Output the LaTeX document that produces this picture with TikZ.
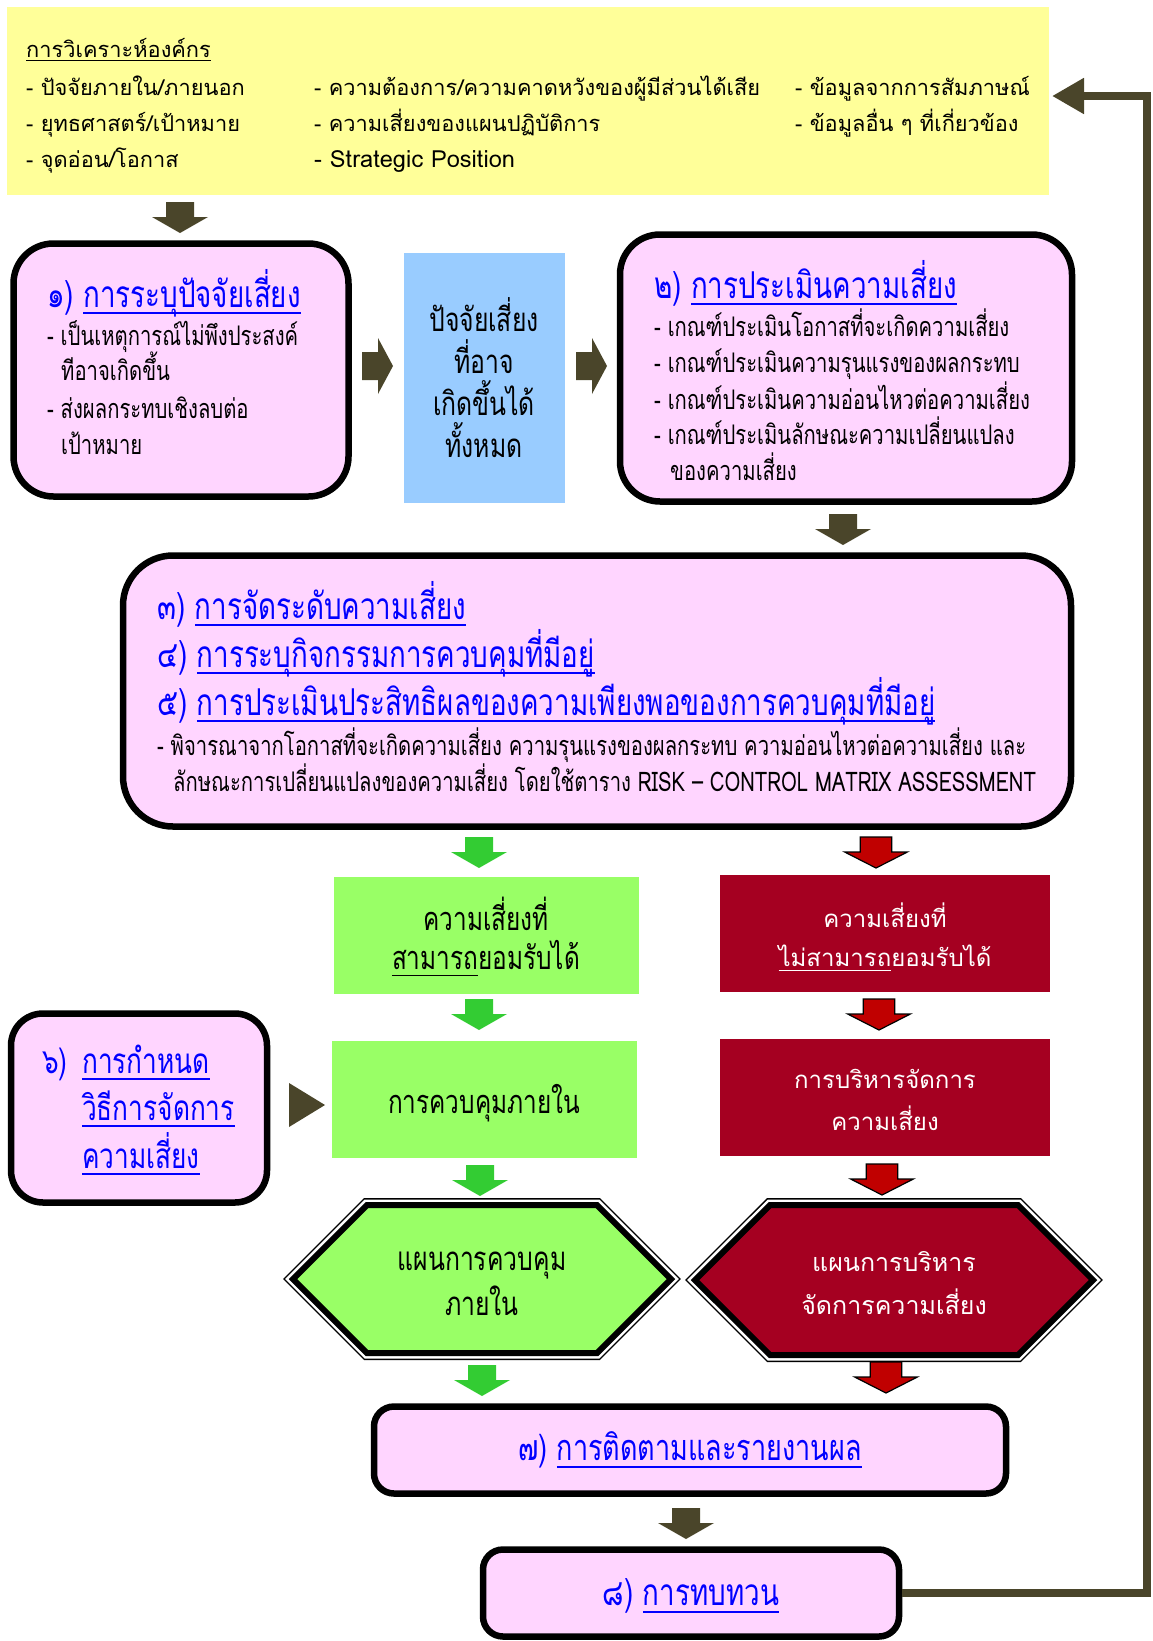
\documentclass[tikz,border=0pt]{standalone}
\usepackage{fontspec}
\setmainfont{Loma}[Script=Thai]
\newfontfamily\condfont{Loma}[Script=Thai,FakeStretch=0.75]
\usetikzlibrary{shapes.symbols,arrows.meta}
\definecolor{yelbg}{RGB}{255,255,153}
\definecolor{pinkbg}{RGB}{255,213,255}
\definecolor{bluebg}{RGB}{153,204,255}
\definecolor{grnbg}{RGB}{153,255,102}
\definecolor{grnarr}{RGB}{51,204,51}
\definecolor{redbg}{RGB}{165,0,33}
\definecolor{redarr}{RGB}{192,0,0}
\definecolor{arrdark}{RGB}{74,69,42}
\definecolor{linkblue}{RGB}{0,0,255}
% underline at a fixed depth, Thai vowels below may cross it
\newcommand{\ulth}[1]{\leavevmode\setbox0=\hbox{#1}\rlap{\rule[-0.2em]{\wd0}{0.06em}}\box0}
\newcommand{\stepno}[2]{{\color{linkblue}#1 \ulth{#2}}}
\tikzset{
  pics/dnarr/.style={code={\path[#1] (-14,0) -- (14,0) -- (14,15) -- (28,15) -- (0,31) -- (-28,15) -- (-14,15) -- cycle;}},
  pics/rtarr/.style={code={\path[#1] (0,-14) -- (16,-14) -- (16,-28) -- (31,0) -- (16,28) -- (16,14) -- (0,14) -- cycle;}},
}
\begin{document}
\begin{tikzpicture}[x=1pt,y=-1pt,
  every node/.style={inner sep=0pt},
  hdr/.style={anchor=west, text height=18pt, text depth=2pt, font=\fontsize{21.8}{26}\selectfont},
  ttl/.style={anchor=west, text height=28pt, text depth=4pt, font=\condfont\fontsize{37}{40}\selectfont},
  itm/.style={anchor=west, text height=24pt, text depth=4pt, font=\condfont\fontsize{27}{30}\selectfont},
  stepbox/.style={draw=black, line width=6.5pt, fill=pinkbg, rounded corners=#1},
  plainbox/.style={minimum width=305, minimum height=117},
  boxtext/.style={align=center, font=\condfont\fontsize{32.5}{39}\selectfont},
  redtext/.style={align=center, text=white, font=\fontsize{24}{#1}\selectfont},
  hexbox/.style={signal, signal to=west and east, signal pointer angle=90, draw=black, line width=6pt,
    preaction={draw=black, line width=14pt}, preaction={draw=white, line width=11pt}}]
\useasboundingbox (0,0) rectangle (1152,1641);

% analysis of the organisation
\node[fill=yelbg, minimum width=1042, minimum height=188] (yel) at (528,101) {};
\node[hdr] (yt) at (26,49) {\ulth{การวิเคราะห์องค์กร}};
\node[hdr] (y1) at (26,87) {- ปัจจัยภายใน/ภายนอก};
\node[hdr] (y2) at (26,123) {- ยุทธศาสตร์/เป้าหมาย};
\node[hdr] (y3) at (26,159) {- จุดอ่อน/โอกาส};
\node[hdr] (y4) at (314,87) {- ความต้องการ/ความคาดหวังของผู้มีส่วนได้เสีย};
\node[hdr] (y5) at (314,123) {- ความเสี่ยงของแผนปฏิบัติการ};
\node[hdr, font=\fontsize{23.6}{26}\selectfont] (y6) at (314,159) {- Strategic Position};
\node[hdr] (y7) at (795,87) {- ข้อมูลจากการสัมภาษณ์};
\node[hdr] (y8) at (795,123) {- ข้อมูลอื่น ๆ ที่เกี่ยวข้อง};
\pic at (180,202) {dnarr={fill=arrdark}};

% step 1
\node[stepbox=40pt, minimum width=335, minimum height=253] (b1) at (181,370) {};
\node[ttl] (b1t) at (47,295) {\stepno{๑)}{การระบุปัจจัยเสี่ยง}};
\node[itm] at (47,335) {- เป็นเหตุการณ์ไม่พึงประสงค์};
\node[itm] at (61,370) {ทีอาจเกิดขึ้น};
\node[itm] at (47,408) {- ส่งผลกระทบเชิงลบต่อ};
\node[itm] at (61,444) {เป้าหมาย};
\pic at (362,366) {rtarr={fill=arrdark}};

% all risk factors
\node[fill=bluebg, minimum width=161, minimum height=250, align=center,
  font=\condfont\fontsize{33}{42}\selectfont] (risk) at (484,378)
  {ปัจจัยเสี่ยง\\ที่อาจ\\เกิดขึ้นได้\\ทั้งหมด};
\pic at (576,366) {rtarr={fill=arrdark}};

% step 2
\node[stepbox=40pt, minimum width=452, minimum height=267] (b2) at (846,368) {};
\node[ttl] (b2t) at (654,286) {\stepno{๒)}{การประเมินความเสี่ยง}};
\node[itm] at (654,326) {- เกณฑ์ประเมินโอกาสที่จะเกิดความเสี่ยง};
\node[itm] at (654,362) {- เกณฑ์ประเมินความรุนแรงของผลกระทบ};
\node[itm] at (654,399) {- เกณฑ์ประเมินความอ่อนไหวต่อความเสี่ยง};
\node[itm] at (654,434) {- เกณฑ์ประเมินลักษณะความเปลี่ยนแปลง};
\node[itm] at (670,470) {ของความเสี่ยง};
\pic at (843,514) {dnarr={fill=arrdark}};

% steps 3-5
\node[stepbox=50pt, minimum width=948, minimum height=271] (b3) at (597,691) {};
\node[ttl] (b3a) at (157,607) {\stepno{๓)}{การจัดระดับความเสี่ยง}};
\node[ttl] (b3b) at (157,655) {\stepno{๔)}{การระบุกิจกรรมการควบคุมที่มีอยู่}};
\node[ttl] (b3c) at (157,703) {\stepno{๕)}{การประเมินประสิทธิผลของความเพียงพอของการควบคุมที่มีอยู่}};
\node[itm] at (157,745) {- พิจารณาจากโอกาสที่จะเกิดความเสี่ยง ความรุนแรงของผลกระทบ ความอ่อนไหวต่อความเสี่ยง และ};
\node[itm] at (173,781) {ลักษณะการเปลี่ยนแปลงของความเสี่ยง โดยใช้ตาราง RISK – CONTROL MATRIX ASSESSMENT};
\pic at (479,837) {dnarr={fill=grnarr}};
\pic at (876,837) {dnarr={fill=redarr, draw=black, line width=1.2pt, xscale=1.12}};

% accepted / not accepted
\node[plainbox, fill=grnbg] (acc) at (486,935) {};
\node[boxtext] (acct) at (486,937) {ความเสี่ยงที่\\\ulth{สามารถ}ยอมรับได้};
\node[plainbox, fill=redbg, minimum width=330] (unacc) at (885,933) {};
\node[redtext=39] (unacct) at (885,937) {ความเสี่ยงที่\\\ulth{ไม่สามารถ}ยอมรับได้};
\pic at (479,999) {dnarr={fill=grnarr}};
\pic at (879,999) {dnarr={fill=redarr, draw=black, line width=1.2pt, xscale=1.12}};

% step 6
\node[stepbox=32pt, minimum width=256, minimum height=189] (b6) at (139,1108) {};
\node[ttl, text=linkblue, font=\condfont\fontsize{35}{40}\selectfont] (b6n) at (42,1061) {๖)};
\node[ttl, text=linkblue, font=\condfont\fontsize{35}{40}\selectfont] (b6a) at (82,1061) {\ulth{การกำหนด}};
\node[ttl, text=linkblue, font=\condfont\fontsize{35}{40}\selectfont] (b6b) at (82,1108) {\ulth{วิธีการจัดการ}};
\node[ttl, text=linkblue, font=\condfont\fontsize{35}{40}\selectfont] (b6c) at (82,1156) {\ulth{ความเสี่ยง}};
\fill[arrdark] (289,1083) -- (325,1105) -- (289,1127) -- cycle;

\node[plainbox, fill=grnbg] (ctrl) at (484,1099) {};
\node[boxtext] (ctrlt) at (484,1103) {การควบคุมภายใน};
\node[plainbox, fill=redbg, minimum width=330] (mgmt) at (885,1097) {};
\node[redtext=42] (mgmtt) at (885,1100) {การบริหารจัดการ\\ความเสี่ยง};
\pic at (480,1165) {dnarr={fill=grnarr}};
\pic at (882,1164) {dnarr={fill=redarr, draw=black, line width=1.2pt, xscale=1.12}};

% plans
\node[hexbox, fill=grnbg, minimum width=378, minimum height=148] (hexg) at (482,1279) {};
\node[boxtext, font=\condfont\fontsize{33}{45}\selectfont] (hexgt) at (482,1284) {แผนการควบคุม\\ภายใน};
\node[hexbox, fill=redbg, minimum width=398, minimum height=150] (hexr) at (894,1280) {};
\node[redtext=43, font=\fontsize{25}{43}\selectfont] (hexrt) at (894,1283) {แผนการบริหาร\\จัดการความเสี่ยง};
\pic at (482,1365) {dnarr={fill=grnarr}};
\pic at (886,1362) {dnarr={fill=redarr, draw=black, line width=1.2pt, xscale=1.12}};

% steps 7 and 8
\node[stepbox=20pt, minimum width=632, minimum height=87, font=\condfont\fontsize{36}{40}\selectfont] (b7) at (690,1450)
  {\stepno{๗)}{การติดตามและรายงานผล}};
\pic at (686,1508) {dnarr={fill=arrdark}};
\node[stepbox=20pt, minimum width=416, minimum height=87] (b8) at (691,1593) {};
\node[font=\condfont\fontsize{37}{40}\selectfont] (b8t) at (691,1596) {\stepno{๘)}{การทบทวน}};

% feedback to the analysis
\coordinate (fbturn) at (1147,96);
\coordinate (fbtip) at (1052,96);
\draw[arrdark, line width=8pt, -{Triangle[length=32pt, width=34pt]}] (b8.east) -| (fbturn) -- (fbtip);
\end{tikzpicture}
\end{document}
